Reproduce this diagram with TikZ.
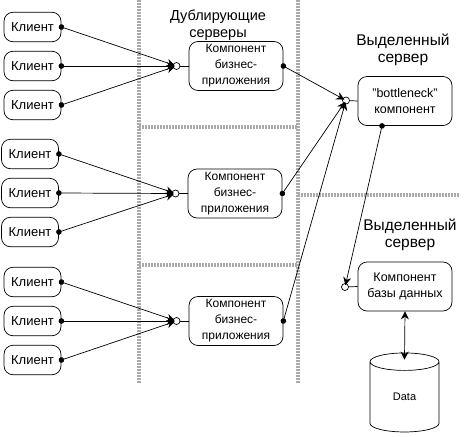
\documentclass[tikz,border=0pt]{standalone}
\usepackage{fontspec}
\setmainfont{Liberation Sans}
\usetikzlibrary{shapes.geometric, arrows.meta}

\begin{document}
\begin{tikzpicture}[
    x=1pt, y=-1pt,
    client/.style={draw, line width=0.7pt, rounded corners=9pt, minimum width=57pt, minimum height=29.5pt,
                   inner sep=0pt, font=\fontsize{13}{15}\selectfont},
    comp/.style={draw, line width=0.7pt, fill=white, rounded corners=9pt, minimum width=94pt, minimum height=49pt,
                 inner sep=0pt, align=center, font=\fontsize{12}{16}\selectfont},
    sock/.style={draw, line width=0.7pt, circle, fill=white, inner sep=0pt, minimum size=7pt},
    title/.style={align=center, font=\fontsize{15.5}{17}\selectfont},
    sep/.style={draw=black!33, line width=3.5pt, dash pattern=on 2.4pt off 0.6pt},
    arr/.style={{Circle[length=5.5pt]}-{Stealth[length=8pt,width=8pt]}, shorten <=-2.7pt, shorten >=-2pt, line width=0.7pt},
    link/.style={line width=0.7pt}
]
\useasboundingbox (0,0) rectangle (472,437);

% server borders
\draw[sep] (139,0) -- (139,383);
\draw[sep] (298,0) -- (298,383);
\draw[sep] (139,127) -- (298,127);
\draw[sep] (139,265) -- (298,265);
\draw[sep] (298,195) -- (460,195);

\node[title, font=\fontsize{14.5}{17}\selectfont] (dup) at (218,25) {Дублирующие\\серверы};
\node[title] (ded1) at (403,50) {Выделенный\\сервер};
\node[title] (ded2) at (410,235) {Выделенный\\сервер};

\node[client] (cl1) at (32.5,27) {Клиент};
\node[client] (cl2) at (32.5,66) {Клиент};
\node[client] (cl3) at (32.5,105) {Клиент};
\node[client] (cl4) at (30,154) {Клиент};
\node[client] (cl5) at (30,193) {Клиент};
\node[client] (cl6) at (30,232) {Клиент};
\node[client] (cl7) at (32.5,282) {Клиент};
\node[client] (cl8) at (32.5,321) {Клиент};
\node[client] (cl9) at (32.5,360) {Клиент};

\node[comp] (app1) at (236,66) {Компонент\\бизнес-\\приложения};
\node[comp] (app2) at (235,193.5) {Компонент\\бизнес-\\приложения};
\node[comp] (app3) at (236,321) {Компонент\\бизнес-\\приложения};
\node[comp, font=\fontsize{12.5}{16}\selectfont] (neck) at (405,101) {"bottleneck"\\компонент};
\node[comp, font=\fontsize{12.5}{16}\selectfont] (base) at (405,286.5) {Компонент\\базы данных};

\node[draw, line width=0.7pt, cylinder, shape border rotate=90, shape aspect=0.75, minimum width=69pt,
      minimum height=79pt, inner sep=0pt, font=\fontsize{11}{12}\selectfont] (data) at (404.5,397) {\raisebox{-3pt}{Data}};

\node[sock] (s1) at (176.5,66) {};
\node[sock] (s2) at (175.5,193.5) {};
\node[sock] (s3) at (176.5,321) {};
\node[sock] (s4) at (346,100.5) {};
\node[sock] (s5) at (345,287) {};

\draw[link] (s1) -- (app1.west);
\draw[link] (s2) -- (app2.west);
\draw[link] (s3) -- (app3.west);
\draw[link] (s4) -- (neck.west);
\draw[link] (s5) -- (base.west);

\draw[arr] (cl1.east) -- (s1);
\draw[arr] (cl2.east) -- (s1);
\draw[arr] (cl3.east) -- (s1);
\draw[arr] (cl4.east) -- (s2);
\draw[arr] (cl5.east) -- (s2);
\draw[arr] (cl6.east) -- (s2);
\draw[arr] (cl7.east) -- (s3);
\draw[arr] (cl8.east) -- (s3);
\draw[arr] (cl9.east) -- (s3);

\draw[arr] (app1.east) -- (s4);
\draw[arr] (app2.east) -- (s4);
\draw[arr] (app3.east) -- (s4);
\draw[arr] ([xshift=-23pt]neck.south) -- (s5);

\draw[link, <->, >={Stealth[length=8pt,width=8pt]}] (base.south) -- ([yshift=-7pt]data.north);
\end{tikzpicture}
\end{document}
